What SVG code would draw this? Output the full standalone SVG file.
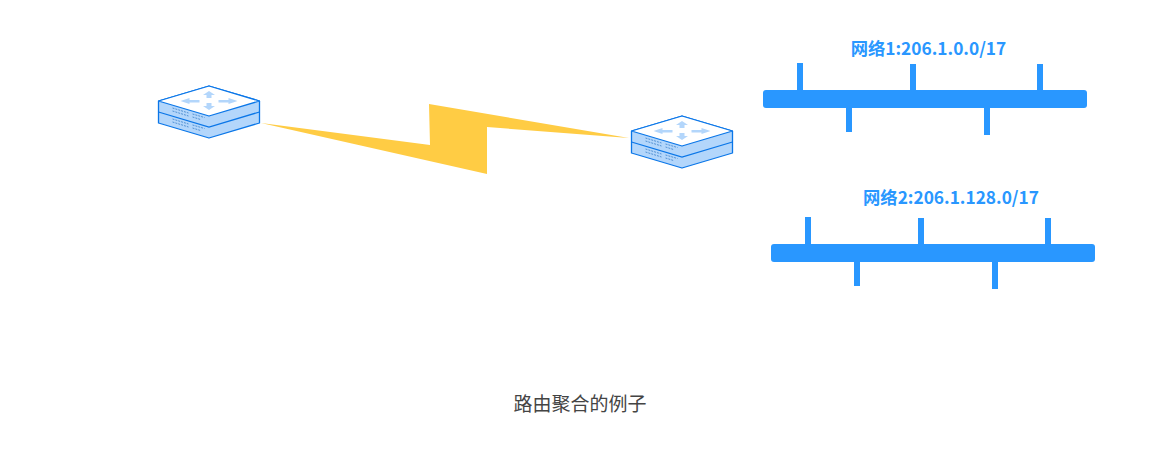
<svg xmlns="http://www.w3.org/2000/svg" width="1160" height="451" viewBox="0 0 1160 451">
<style>
.bus{fill:#2997ff}
.lbl{font-family:"Noto Sans CJK SC","Noto Sans","Open Sans",sans-serif;font-size:17.300px;font-weight:700;fill:#2997ff}
.cap{font-family:"Noto Sans CJK SC","Noto Sans",sans-serif;font-size:19px;fill:#444}
.body{fill:#b3d6fb;stroke:#0a76e8;stroke-width:1.300;stroke-linejoin:round}
.top{fill:#fff;stroke:#0a76e8;stroke-width:1.300;stroke-linejoin:round}
.sep{fill:none;stroke:#0a76e8;stroke-width:1.300}
.arw{fill:#b3d6fb}
.dash{fill:none;stroke:#3a7fc8;stroke-width:.8;stroke-dasharray:2 1}
</style>
<defs>
<g id="router">
<path class="body" d="M0 0 L50.500 -15 L101 0 L101 22 L50.500 37 L0 22Z"/>
<path class="sep" d="M0 11 L50.500 26 L101 11"/>
<path class="top" d="M0 0 L50.500 -15 L101 0 L50.500 15Z"/>
<path class="arw" d="M50.500 -10l6 4h-3.500v3h-5v-3h-3.500z"/>
<path class="arw" d="M50.500 9l6-4h-3.500v-3h-5v3h-3.500z"/>
<path class="arw" d="M22 0l9-3v2h10v2.500h-10v1.500z"/>
<path class="arw" d="M79 0l-9-3v2h-10v2.500h10v1.500z"/>
<path class="dash" d="M14 7l16 5M34 13l12 3.500M14 10l16 5M34 16l8 2.500M14 18l16 5M34 24l12 3.500M14 21l16 5M34 27l8 2.500"/>
</g>
</defs>
<g id="connectors">
<path id="link" d="M261 123 L430 145 L429 104 L629 138 L487 127 L487 174Z" fill="#ffcc44"/>
</g>
<g id="router-1"><use href="#router" x="158.500" y="101"/></g>
<g id="router-2"><use href="#router" x="631.500" y="131"/></g>
<g id="network-1">
<text class="lbl" x="928.500" y="55" text-anchor="middle">网络1:206.1.0.0/17</text>
<rect class="bus" x="763" y="90" width="324" height="18" rx="3"/>
<rect class="bus" x="797" y="63" width="6" height="28"/>
<rect class="bus" x="910" y="64" width="6" height="27"/>
<rect class="bus" x="1037" y="64" width="6" height="27"/>
<rect class="bus" x="846" y="107" width="6" height="25"/>
<rect class="bus" x="984" y="107" width="6" height="28"/>
</g>
<g id="network-2">
<text class="lbl" x="951" y="204" text-anchor="middle">网络2:206.1.128.0/17</text>
<rect class="bus" x="771" y="244" width="324" height="18" rx="3"/>
<rect class="bus" x="805" y="217" width="6" height="28"/>
<rect class="bus" x="918" y="218" width="6" height="27"/>
<rect class="bus" x="1045" y="218" width="6" height="27"/>
<rect class="bus" x="854" y="261" width="6" height="25"/>
<rect class="bus" x="992" y="261" width="6" height="28"/>
</g>
<text class="cap" x="580" y="411" text-anchor="middle">路由聚合的例子</text>
</svg>
